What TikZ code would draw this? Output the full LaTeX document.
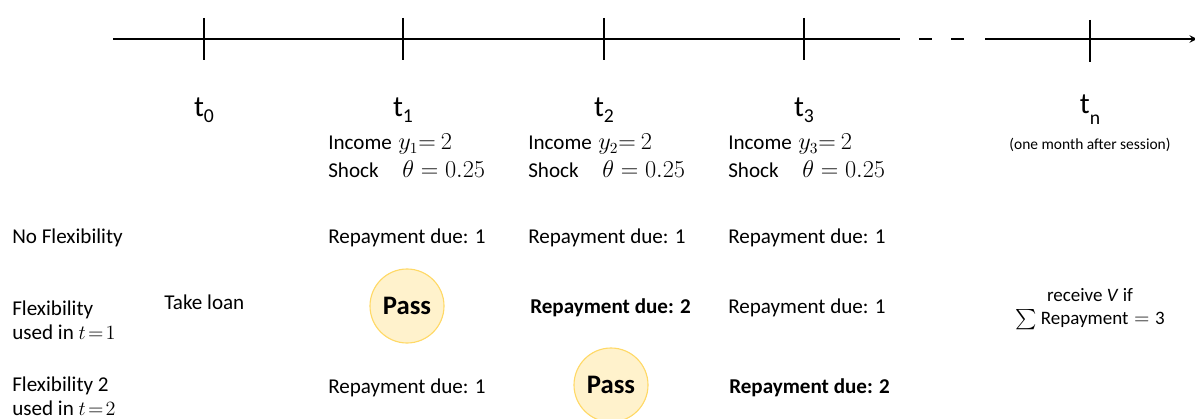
\documentclass[tikz,border=0pt]{standalone}
\usepackage{fontspec}
\setmainfont{Carlito}
\usepackage{amsmath}
\definecolor{passfill}{HTML}{FFF2CC}
\definecolor{passline}{HTML}{FFD966}
% period label with a low subscript
\newcommand{\tlab}[2][-0.45ex]{t\raisebox{#1}{\fontsize{14}{14}\selectfont #2}}
% slightly larger math, as in the slide
\newcommand{\slidemath}[1]{{\fontsize{16}{18}\selectfont$#1$}}

\begin{document}
\begin{tikzpicture}
            [x=0.025cm, y=-0.025cm,
             every node/.style={font=\fontsize{15}{17}\selectfont, inner sep=0pt},
             txt/.style={anchor=west, align=left},
             bold/.style={font=\fontsize{15}{17}\selectfont\bfseries},
             period/.style={font=\fontsize{21}{23}\selectfont},
             pass/.style={circle, minimum size=74*0.025cm, fill=passfill, draw=passline,
                          line width=0.8pt, font=\fontsize{19}{21}\selectfont\bfseries}]
            \useasboundingbox (0,0) rectangle (1195,419);

            % Draw the timeline
            \coordinate (start) at (113,39);
            \coordinate (gapL) at (900,39);
            \coordinate (gapR) at (985,39);
            \coordinate (stop) at (1197,39);
            \draw[line width=1.3pt] (start) -- (gapL);
            \draw[line width=1.3pt] (919,39) -- (932,39);
            \draw[line width=1.3pt] (951,39) -- (964,39);
            \draw[line width=1.3pt, -stealth] (gapR) -- (stop);

            % Place the ticks and period labels
            \foreach \name/\x/\sub in {T0/204/0, T1/403/1, T2/604/2, T3/804/3} {
                \coordinate (\name) at (\x,39);
                \draw[line width=1.3pt] (\x,18) -- (\x,60);
                \node[period] at (\x,110) {\tlab{\sub}};
            }
            \coordinate (TN) at (1090,39);
            \draw[line width=1.3pt] (1090,20) -- (1090,62);
            \node[period] (tn) at (1090,110) {\tlab[-0.8ex]{n}};
            \node[font=\fontsize{11}{13}\selectfont] (after) at (1090,145) {(one month after session)};

            % Income and shock of each period
            \foreach \x/\sub in {328/1, 528/2, 728/3} {
                \node[txt] (inc\sub) at (\x,159)
                    {\begin{tabular}{@{}p{1.75cm}@{}l@{}}
                     Income & \slidemath{y_{\sub}{=}\ 2}\\[3pt]
                     Shock  & \slidemath{\,\theta = 0.25}
                     \end{tabular}};
            }

            % Rows
            \node[txt] (noflex) at (12,238) {No Flexibility};
            \node[txt] (flex1) at (12,320) {Flexibility\\used in $t\!=\!1$};
            \node[txt] (flex2) at (12,396) {Flexibility 2\\used in $t\!=\!2$};
            \node[txt] (loan) at (164,302) {Take loan};

            % No flexibility
            \node[txt] (r11) at (328,238) {Repayment due: 1};
            \node[txt] (r12) at (528,238) {Repayment due: 1};
            \node[txt] (r13) at (728,238) {Repayment due: 1};

            % Flexibility used in t=1
            \node[pass] (pass1) at (407,306) {Pass};
            \node[txt, bold] (r22) at (530,308) {Repayment due: 2};
            \node[txt] (r23) at (728,308) {Repayment due: 1};
            \node[align=center, font=\fontsize{13.5}{17}\selectfont] (receive) at (1090,309)
                {receive \textit{V} if\\$\sum$ Repayment${}={}$3};

            % Flexibility used in t=2
            \node[txt] (r31) at (328,388) {Repayment due: 1};
            \node[pass] (pass2) at (611,385) {Pass};
            \node[txt, bold] (r33) at (729,388) {Repayment due: 2};
        \end{tikzpicture}
\end{document}
